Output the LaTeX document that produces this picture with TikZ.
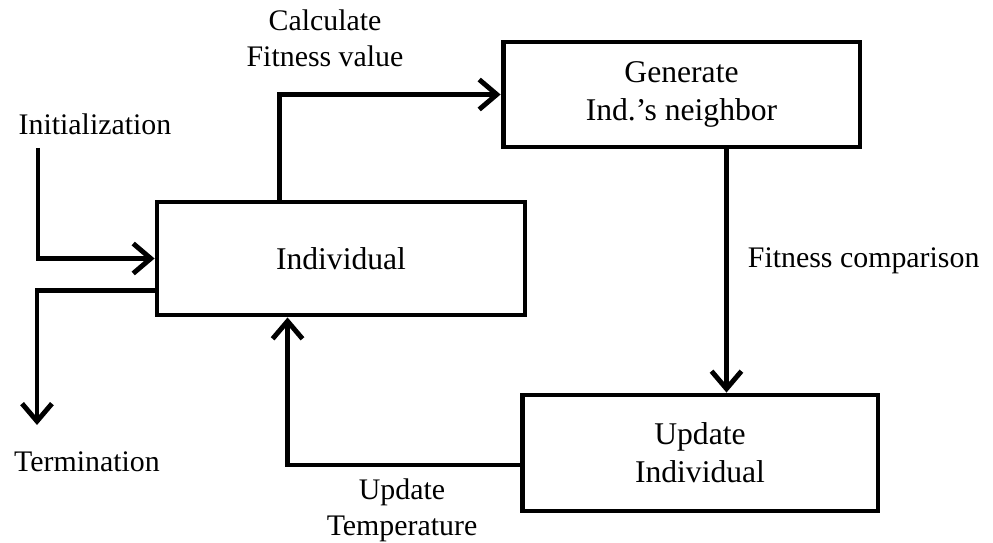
\documentclass[tikz,border=0pt]{standalone}
\usepackage{fontspec}
\setmainfont{Liberation Serif}
\usetikzlibrary{positioning,arrows.meta}
\begin{document}
\begin{tikzpicture}[x=0.02cm, y=-0.02cm,
line width=2.8pt, >={Straight Barb[length=10pt,width=17pt]},
squarednode/.style={rectangle, draw, line width=2.8pt, align=center, inner sep=0pt, font=\fontsize{18}{21.5}\selectfont},
txt/.style={align=center, inner sep=0pt}]
\tikzstyle{every node}=[font=\fontsize{17}{20.5}\selectfont]
\useasboundingbox (0,0) rectangle (993,543);
\node[squarednode, minimum width=7.36cm, minimum height=2.26cm] (1) at (341,258.5) {Individual};
\node[squarednode, minimum width=7.14cm, minimum height=2.1cm] (2) at (681.5,94.5) {Generate\\Ind.'s neighbor};
\node[squarednode, minimum width=7.12cm, minimum height=2.32cm] (3) at (700,453) {Update\\Individual};
\coordinate (4) at (38,148);
\coordinate (5) at (37,425);
\node[txt] (6) at (95,124) {Initialization};
\node[txt] (7) at (87,462) {Termination};
\node[txt] (8) at (325,38) {Calculate\\Fitness value};
\node[txt] (9) at (402,510) {Update\\Temperature};
\draw[->] (4) |- (1.west);
\draw[->] ([yshift=-0.64cm]1.west) -| (5);
\draw[->] ([xshift=2.5cm]1.north west) |- (2.west);
\draw[->] ([xshift=0.9cm]2.south) -- ([xshift=0.9cm]2.south |- 3.north)
  node[txt, pos=0.46, right=0.38cm] (10) {Fitness comparison};
\draw[->] ([yshift=-0.24cm]3.west) -| ([xshift=2.66cm]1.south west);
\end{tikzpicture}
\end{document}
